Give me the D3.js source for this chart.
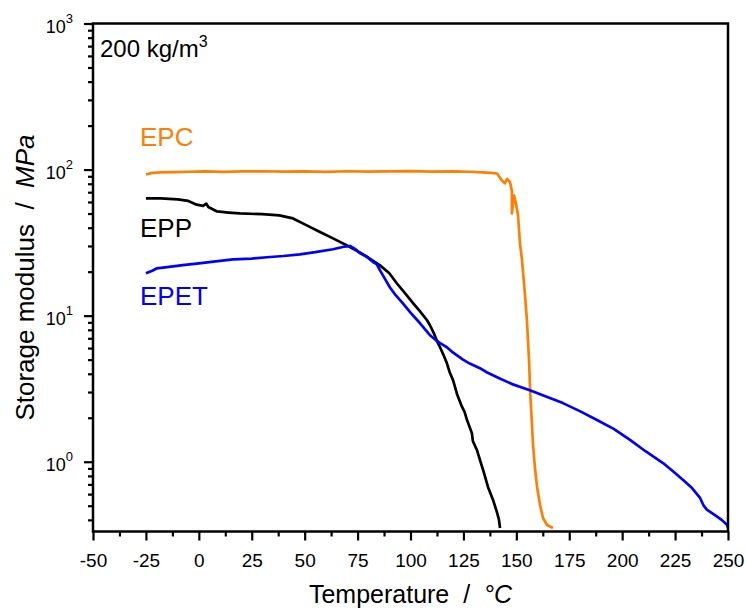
<!DOCTYPE html>
<html>
<head>
<meta charset="utf-8">
<script src="https://cdn.jsdelivr.net/npm/d3@7"></script>
<style>
  html, body { margin: 0; padding: 0; background: #fff; }
  svg { display: block; font-family: "Liberation Sans", Arial, sans-serif; }
  text { white-space: pre; }
</style>
</head>
<body>
<svg id="chart" width="746" height="610"></svg>
<script>
// Storage modulus vs temperature for three bead foams at 200 kg/m3

// EPC (orange)
const tempEPC = [-25, -22, -18, -12, -5, 3, 12, 20, 30, 40, 50, 60, 70, 80, 90, 100, 110, 120, 128, 134, 138, 140.9,
  143.2, 144.6, 145.6, 147.0, 147.9, 147.9, 148.9, 149.8, 150.8, 151.7, 152.7, 154.1, 155.0, 156.0, 156.5,
  157.4, 157.9, 158.8, 159.8, 161.2, 162.6, 164.5, 167.3];
const modEPC = [92.5, 95.0, 95.6, 96.2, 96.6, 97.1, 96.4, 97.1, 97.4, 96.8, 97.1, 96.4, 97.4, 96.9, 97.1, 97.6, 96.8, 97.3, 96.6, 95.6, 95.0, 94.0,
  84.2, 80.6, 86.3, 82.3, 71.2, 50.1, 66.4, 58.7, 48.7, 31.3, 23.9, 13.8, 9.3, 4.96, 3.09,
  1.78, 1.30, 0.905, 0.672, 0.506, 0.412, 0.369, 0.352];

// EPP (black)
const tempEPP = [-25, -18, -10, -5, -1, 2, 3.5, 4.5, 8.6, 14, 19.4, 30, 38, 44.5, 51, 57, 63.4, 71.4, 76, 80, 85.6, 90,
  93.6, 97, 101.2, 104.5, 107.8, 109.2, 111, 112.5, 113.9, 115.3, 117.2, 118.5, 120.1, 122, 124.3, 125.5, 126.7,
  129, 129.5, 131.4, 132.8, 134.3, 136.6, 139, 140.9, 141.8, 142.3];
const modEPP = [63.5, 63.5, 62.5, 61.0, 57.5, 56.5, 58.5, 55.5, 51.7, 50.8, 50.1, 49.5, 48.6, 46.3, 41.5, 37.5, 33.8, 29.5, 27.1, 25.0, 22.1, 19.5,
  16.6, 14.5, 12.2, 10.7, 9.3, 8.6, 7.6, 6.7, 6.1, 5.5, 4.72, 4.1, 3.62, 2.9, 2.38, 2.2, 1.93,
  1.57, 1.38, 1.20, 1.03, 0.878, 0.672, 0.548, 0.448, 0.40, 0.352];

// EPET (blue)
const tempEPET = [-25, -22, -19.8, -15, -7.5, 0, 8, 16.1, 25, 32.2, 40, 47.8, 55, 63.4, 68, 71.4, 74, 76, 79, 82.3, 84,
  85.6, 88, 90.3, 93, 96.5, 100, 104.5, 109.2, 112.5, 114, 117.2, 120, 124.8, 128, 132.8, 136, 140.9, 148,
  156.4, 164, 172, 180, 188.1, 196, 203.7, 211, 219.3, 224, 228.8, 233, 236.8, 238.5, 240, 244, 247, 249.5, 250];
const modEPET = [19.5, 20.3, 21.1, 21.5, 22.2, 22.8, 23.5, 24.3, 24.6, 25.1, 25.6, 26.3, 27.2, 28.5, 29.5, 30.0, 28.5, 26.8, 25.5, 23.3, 22.5,
  20.4, 17.8, 15.6, 13.8, 12.1, 10.5, 8.87, 7.35, 6.71, 6.48, 6.08, 5.6, 5.0, 4.7, 4.37, 4.1, 3.79, 3.4,
  3.09, 2.8, 2.52, 2.22, 1.93, 1.68, 1.41, 1.18, 0.98, 0.86, 0.75, 0.66, 0.565, 0.50, 0.47, 0.43, 0.40, 0.37, 0.355];

const series = [
  { name: "EPC",  temp: tempEPC,  mod: modEPC,  color: "#FF8000" },
  { name: "EPP",  temp: tempEPP,  mod: modEPP,  color: "#000000" },
  { name: "EPET", temp: tempEPET, mod: modEPET, color: "#0000FF" }
];

// axis ticks
const xMajor = [-50, -25, 0, 25, 50, 75, 100, 125, 150, 175, 200, 225, 250];
const xMinor = [-37.5, -12.5, 12.5, 37.5, 62.5, 87.5, 112.5, 137.5, 162.5, 187.5, 212.5, 237.5];
const yMajor = [1, 10, 100, 1000];
const yExp = [0, 1, 2, 3];
const yMinor = [0.4, 0.5, 0.6, 0.7, 0.8, 0.9, 2, 3, 4, 5, 6, 7, 8, 9, 20, 30, 40, 50, 60, 70, 80, 90,
  200, 300, 400, 500, 600, 700, 800, 900];

const m = { left: 93, right: 18, top: 23.5, bottom: 78.5 };
const W = 746, H = 610;
const svg = d3.select("#chart");

const x = d3.scaleLinear().domain([-50, 250]).range([m.left, W - m.right]);
const y = d3.scaleLog().domain([0.333, 1000]).range([H - m.bottom, m.top]);

// bottom axis (plain hyphen for negatives)
const gx = svg.append("g").attr("transform", `translate(0,${H - m.bottom})`);
gx.call(d3.axisBottom(x).tickValues(xMajor).tickSize(9).tickPadding(13).tickFormat(d => String(d)));
gx.select(".domain").remove();
gx.selectAll(".tick line").attr("stroke-width", 2.2);
gx.selectAll(".tick text").attr("font-size", 19).attr("fill", "#000");
const gxm = svg.append("g").attr("transform", `translate(0,${H - m.bottom})`);
gxm.call(d3.axisBottom(x).tickValues(xMinor).tickSize(5).tickFormat(""));
gxm.select(".domain").remove();
gxm.selectAll(".tick line").attr("stroke-width", 2.2);

// left axis with power-of-ten labels
const gy = svg.append("g").attr("transform", `translate(${m.left},0)`);
gy.call(d3.axisLeft(y).tickValues(yMajor).tickSize(9).tickPadding(11).tickFormat(""));
gy.select(".domain").remove();
gy.selectAll(".tick line").attr("stroke-width", 2.2);
gy.selectAll(".tick text").each(function (d, i) {
  const t = d3.select(this).attr("font-size", 18).attr("fill", "#000").attr("dy", "0.5em");
  t.append("tspan").text("10");
  t.append("tspan").attr("font-size", 13).attr("dy", "-0.78em").text(yExp[i]);
});
const gym = svg.append("g").attr("transform", `translate(${m.left},0)`);
gym.call(d3.axisLeft(y).tickValues(yMinor).tickSize(5).tickFormat(""));
gym.select(".domain").remove();
gym.selectAll(".tick line").attr("stroke-width", 2.2);

// curves
const line = d3.line().x(d => x(d[0])).y(d => y(d[1]));
const plot = svg.append("g");
series.forEach(s => {
  plot.append("path")
    .datum(s.temp.map((t, i) => [t, s.mod[i]]))
    .attr("fill", "none")
    .attr("stroke", s.color)
    .attr("stroke-width", 2.7)
    .attr("stroke-linejoin", "round")
    .attr("d", line);
});

// frame
svg.append("rect")
  .attr("x", m.left).attr("y", m.top)
  .attr("width", W - m.left - m.right).attr("height", H - m.top - m.bottom)
  .attr("fill", "none").attr("stroke", "#000").attr("stroke-width", 2.5);

// series labels
const labels = [
  { text: "EPC", x: 140, y: 145.5, color: "#FF8000" },
  { text: "EPP", x: 140, y: 236.5, color: "#000000" },
  { text: "EPET", x: 140, y: 305, color: "#0000FF" }
];
svg.selectAll(".slabel").data(labels).join("text")
  .attr("class", "slabel")
  .attr("x", d => d.x).attr("y", d => d.y)
  .attr("font-size", 26).attr("fill", d => d.color)
  .text(d => d.text);

// density note
const note = svg.append("text").attr("x", 100).attr("y", 57).attr("font-size", 24).attr("fill", "#000");
note.append("tspan").text("200 kg/m");
note.append("tspan").attr("font-size", 16).attr("dy", -10).text("3");

// axis titles
const xt = svg.append("text")
  .attr("x", (m.left + W - m.right) / 2).attr("y", 603)
  .attr("text-anchor", "middle").attr("font-size", 25).attr("fill", "#000");
xt.append("tspan").text("Temperature  /  ");
xt.append("tspan").attr("font-style", "italic").text("°C");

const yt = svg.append("text")
  .attr("transform", `translate(33.5,${(m.top + H - m.bottom) / 2}) rotate(-90)`)
  .attr("text-anchor", "middle").attr("font-size", 26).attr("fill", "#000");
yt.append("tspan").text("Storage modulus  /  ");
yt.append("tspan").attr("font-style", "italic").text("MPa");
</script>
</body>
</html>
